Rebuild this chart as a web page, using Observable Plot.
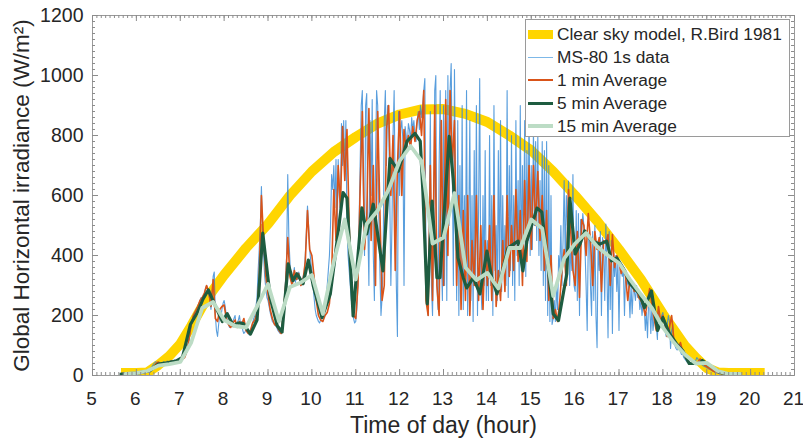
<!DOCTYPE html>
<html><head><meta charset="utf-8">
<script src="https://cdn.jsdelivr.net/npm/d3@7"></script>
<script src="https://cdn.jsdelivr.net/npm/@observablehq/plot@0.6"></script>
<style>
body{margin:0;background:#fff;font-family:"Liberation Sans",Arial,sans-serif;}
#wrap{position:relative;width:803px;height:441px;}
#wrap svg{overflow:visible;}
#legend{position:absolute;left:525px;top:19px;width:265px;height:118px;border:1px solid #9a9a9a;background:#fff;box-sizing:border-box;}
.row{position:absolute;left:0;height:23px;display:flex;align-items:center;font-size:17.3px;color:#262626;white-space:nowrap;}
.sw{width:25px;margin-left:2px;margin-right:4px;flex:none;}
</style></head><body><div id="wrap"></div>
<script>
// ---- axis ticks ----
const xTicks = d3.range(5, 22, 1);
const yTicks = d3.range(0, 1201, 200);
const xMinor = d3.range(5, 21.001, 0.1);
const yMinor = d3.range(0, 1201, 20);

// ---- series labels ----
const seriesNames = ["Clear sky model, R.Bird 1981", "MS-80 1s data", "1 min Average", "5 min Average", "15 min Average"];
const seriesColors = ["#FFD500", "#2f86d4", "#D95319", "#1e5c40", "#bcdcc5"];

// ---- clear sky model [hour, W/m2] ----
const clearSky = [[5.65,8],[6.0,8],[6.25,10],[6.5,35],[6.75,65],[7.0,105],[7.25,165],[7.5,230],[7.75,285],[8.0,335],[8.5,425],[9.0,505],[9.5,600],[10.0,680],[10.5,745],[11.0,795],[11.5,840],[12.0,870],[12.5,887],[13.0,888],[13.5,872],[14.0,845],[14.5,800],[15.0,750],[15.5,680],[16.0,600],[16.5,515],[17.0,420],[17.5,320],[18.0,205],[18.5,100],[18.75,60],[19.0,25],[19.25,10],[19.5,8],[20.32,8]];

// ---- MS-80 1 s data (sampled every 0.025 h from 5.65 h) ----
const ms80Start = 5.65, ms80Step = 0.025;
const ms80 = [
3,3,3,4,4,4,5,5,5,6,6,6,7,7,
7,7,8,8,9,9,10,11,12,13, 15,17,20,24,28,34,40,44,46,40, 36,44,40,38,42,46,40,44,48,46, 44,48,50,46,50,52,48,50,52,54,
52,54,56,58,62,70,85,100,120,145, 170,185,200,210,215,225,230,240,250,260, 255,265,270,290,300,285,270,250,220,260, 330,345,200,150,130,170,200,190,220,240,
250,230,200,180,170,160,165,170,180,190, 200,160,175,185,200,170,180,150,140,145, 155,145,140,135,150,160,175,190,200,230, 260,350,420,500,630,480,400,330,290,260,
250,230,210,195,180,175,170,165,160,150, 145,140,150,165,200,250,320,400,670,460, 380,320,300,330,360,310,340,320,345,330, 300,310,330,340,400,480,565,500,420,380,
350,300,260,220,200,190,180,175,185,200, 210,220,230,260,300,350,400,500,670,620, 700,560,720,450,720,600,550,840,700,850, 650,850,500,400,350,300,250,230,190,175,
180,220,300,500,700,900,950,600,400,900, 940,500,300,850,600,920,400,250,700,950, 900,550,350,200,260,400,850,950,700,900, 850,600,300,500,800,950,600,300,130,880,
600,820,850,780,300,830,800,760,840,820, 780,860,820,850,800,780,850,880,820,900, 860,900,950,990,400,250,200,500,880,300, 200,450,950,1000,300,220,700,950,400,250,
900,300,950,250,1000,500,950,1040,700,300, 1020,600,250,850,200,700,300,900,220,600, 350,950,200,500,850,250,600,180,750,300, 900,200,550,990,300,220,600,300,750,250,
450,250,800,300,600,200,900,350,500,250, 750,300,850,280,600,350,500,300,950,260, 700,350,800,300,600,250,850,400,650,300, 900,350,700,400,850,330,750,450,880,400,
700,420,820,500,780,450,800,400,650,350, 780,300,750,250,780,200,700,180,600,170, 190,250,180,300,220,400,350,500,300,450, 650,380,600,500,648,300,420,350,670,300,
280,550,250,540,200,520,480,540,500,420, 300,150,450,480,300,200,480,250,500,200, 93,450,350,480,200,460,420,250,505,350, 126,480,220,450,140,420,330,400,280,380,
150,380,350,330,360,200,340,300,320,280, 193,300,206,290,280,250,300,260,280,220, 250,200,240,230,150,210,126,250,240,140, 230,150,190,200,170,120,230,180,190,200,
210,180,150,130,170,200,180,90,150,170, 110,100,90,85,100,95,80,70,75,60, 55,50,45,42,40,38,42,40,45,48, 50,60,55,45,40,38,35,32,30,28,
26,24,22,20,18,16,14,12,10,9,8,7,6,6,5,5,5,5,5,5,5
];

// ---- 1 min average (sampled every 0.05 h from 5.65 h) ----
const min1Start = 5.65, min1Step = 0.05;
const min1 = [
3,3,4,4,5,5,6,
6,7,8,9,10,12,15,20,30,40,45,35,42,38,45,40,48,45,50,50,
52,55,60,80,120,170,200,215,230,250,260,275,300,280,230,320,190,180,220,230,
235,190,170,160,175,185,160,180,170,190,150,140,150,175,185,210,330,600,450,330,
270,220,190,170,165,150,140,200,300,460,330,300,350,320,340,300,320,380,550,420,
400,330,250,200,185,180,200,210,240,330,620,450,700,560,830,650,820,500,300,200,
190,300,620,880,420,520,890,450,700,300,880,550,250,300,820,900,600,800,350,700,
880,600,820,750,800,760,830,780,850,880,800,950,250,200,700,250,900,300,200,850,
300,920,400,950,700,850,300,600,220,550,250,600,200,450,300,600,250,500,220,450,
300,500,250,600,230,350,250,450,280,600,330,500,350,620,380,550,300,650,380,700,
420,700,500,680,450,600,350,550,250,400,190,220,180,250,350,420,300,620,480,350,
300,480,260,520,500,400,540,450,300,480,420,460,280,450,440,470,300,470,360,400,
380,340,360,330,250,320,300,280,290,260,250,230,200,250,290,230,190,150,230,180,
200,170,130,160,200,120,100,90,110,80,65,50,40,38,40,40,45,55,45,35,
30,25,20,15,12,10,8,6,5,5,5
];

// ---- 5 min average [hour, W/m2] ----
const min5 = [[5.65,5],[6.0,8],[6.3,15],[6.5,38],[6.7,42],[6.9,48],[7.05,60],[7.23,170],[7.39,210],[7.52,255],[7.64,285],[7.8,232],[7.96,180],[8.07,206],[8.21,166],[8.33,175],[8.44,173],[8.6,138],[8.75,185],[8.88,475],[9.05,260],[9.21,166],[9.32,145],[9.46,372],[9.57,316],[9.66,339],[9.8,306],[9.92,385],[10.03,300],[10.23,193],[10.42,272],[10.55,420],[10.71,610],[10.8,591],[10.94,199],[11.14,559],[11.25,472],[11.4,571],[11.62,349],[11.78,724],[11.97,681],[12.17,781],[12.35,807],[12.47,781],[12.53,615],[12.63,239],[12.74,581],[12.85,326],[12.92,326],[13.13,797],[13.22,658],[13.33,392],[13.45,326],[13.53,292],[13.68,326],[13.83,272],[13.99,415],[14.1,326],[14.22,272],[14.47,425],[14.7,448],[14.81,349],[14.9,448],[15.13,558],[15.24,545],[15.35,405],[15.5,206],[15.62,183],[15.81,339],[15.88,591],[16.0,405],[16.11,438],[16.22,482],[16.38,448],[16.56,438],[16.72,448],[16.83,382],[16.95,392],[17.13,349],[17.25,306],[17.47,272],[17.58,226],[17.74,282],[17.88,150],[18.0,193],[18.15,140],[18.31,106],[18.45,83],[18.6,40],[18.84,40],[18.9,50],[19.07,33],[19.3,10],[19.5,5]];

// ---- 15 min average (every 0.25 h from 5.75 h) ----
const min15Start = 5.75, min15Step = 0.25;
const min15 = [5,8,15,33,38,45,110,225,245,185,165,160,230,305,180,295,310,335,205,380,520,320,505,550,620,715,765,715,440,460,608,360,318,342,290,425,425,520,490,265,390,440,475,430,400,375,320,270,225,160,110,70,40,42,15,5,5];

const series = (vals, start, step) => vals.map((v, i) => ({t: start + i * step, v}));
const ms80Data = series(ms80, ms80Start, ms80Step);
const min1Data = series(min1, min1Start, min1Step);
const min15Data = series(min15, min15Start, min15Step);

const W = 803, H = 441, mL = 92, mR = 9, mT = 15, mB = 66;
const innerW = W - mL - mR, innerH = H - mT - mB;
const tickC = "#8c8c8c";

const chart = Plot.plot({
  width: W, height: H, marginLeft: mL, marginRight: mR, marginTop: mT, marginBottom: mB,
  style: {fontFamily: "Liberation Sans, Arial, sans-serif", background: "#fff", color: "#262626", overflow: "visible"},
  x: {domain: [5, 21]},
  y: {domain: [0, 1200]},
  marks: [
    Plot.line(clearSky, {x: d => d[0], y: d => d[1], stroke: seriesColors[0], strokeWidth: 10, strokeLinecap: "butt", clip: true}),
    Plot.line(ms80Data, {x: "t", y: "v", stroke: seriesColors[1], strokeWidth: 1.1, strokeOpacity: 0.8, clip: true}),
    Plot.line(min1Data, {x: "t", y: "v", stroke: seriesColors[2], strokeWidth: 1.6, clip: true}),
    Plot.line(min5, {x: d => d[0], y: d => d[1], stroke: seriesColors[3], strokeWidth: 3.2, clip: true}),
    Plot.line(min15Data, {x: "t", y: "v", stroke: seriesColors[4], strokeWidth: 3.8, clip: true}),
    Plot.frame({stroke: "#9a9a9a"}),
    Plot.ruleX(xTicks, {stroke: tickC, insetTop: innerH - 6}),
    Plot.ruleX(xTicks, {stroke: tickC, insetBottom: innerH - 6}),
    Plot.ruleX(xMinor, {stroke: tickC, insetTop: innerH - 3}),
    Plot.ruleX(xMinor, {stroke: tickC, insetBottom: innerH - 3}),
    Plot.ruleY(yTicks, {stroke: tickC, insetRight: innerW - 6}),
    Plot.ruleY(yTicks, {stroke: tickC, insetLeft: innerW - 6}),
    Plot.ruleY(yMinor, {stroke: tickC, insetRight: innerW - 3}),
    Plot.ruleY(yMinor, {stroke: tickC, insetLeft: innerW - 3}),
    Plot.axisX({ticks: xTicks, tickSize: 0, tickPadding: 16, fontSize: 19, dx: -1, label: null, tickFormat: d => String(d)}),
    Plot.axisY({ticks: yTicks, tickSize: 0, tickPadding: 9, fontSize: 19.5, label: null, tickFormat: d => String(d)}),
    Plot.text(["Global Horizontal irradiance (W/m²)"], {frameAnchor: "left", dx: -71, rotate: -90, textAnchor: "middle", lineAnchor: "middle", fontSize: 22.5, fill: "#262626"}),
    Plot.text(["Time of day (hour)"], {frameAnchor: "bottom", dy: 50, textAnchor: "middle", lineAnchor: "middle", fontSize: 23, fill: "#262626"})
  ]
});

const wrap = document.getElementById("wrap");
wrap.appendChild(chart);

// legend
const legend = document.createElement("div");
legend.id = "legend";
const swH = [9, 1, 2, 3, 3.5];
seriesNames.forEach((name, i) => {
  const row = document.createElement("div");
  row.className = "row";
  row.style.top = (2.5 + i * 23) + "px";
  const sw = document.createElement("span");
  sw.className = "sw";
  sw.style.height = swH[i] + "px";
  sw.style.background = i === 1 ? "#7db8e8" : seriesColors[i];
  const tx = document.createElement("span");
  tx.textContent = name;
  row.appendChild(sw); row.appendChild(tx);
  legend.appendChild(row);
});
wrap.appendChild(legend);
</script>
</body></html>
